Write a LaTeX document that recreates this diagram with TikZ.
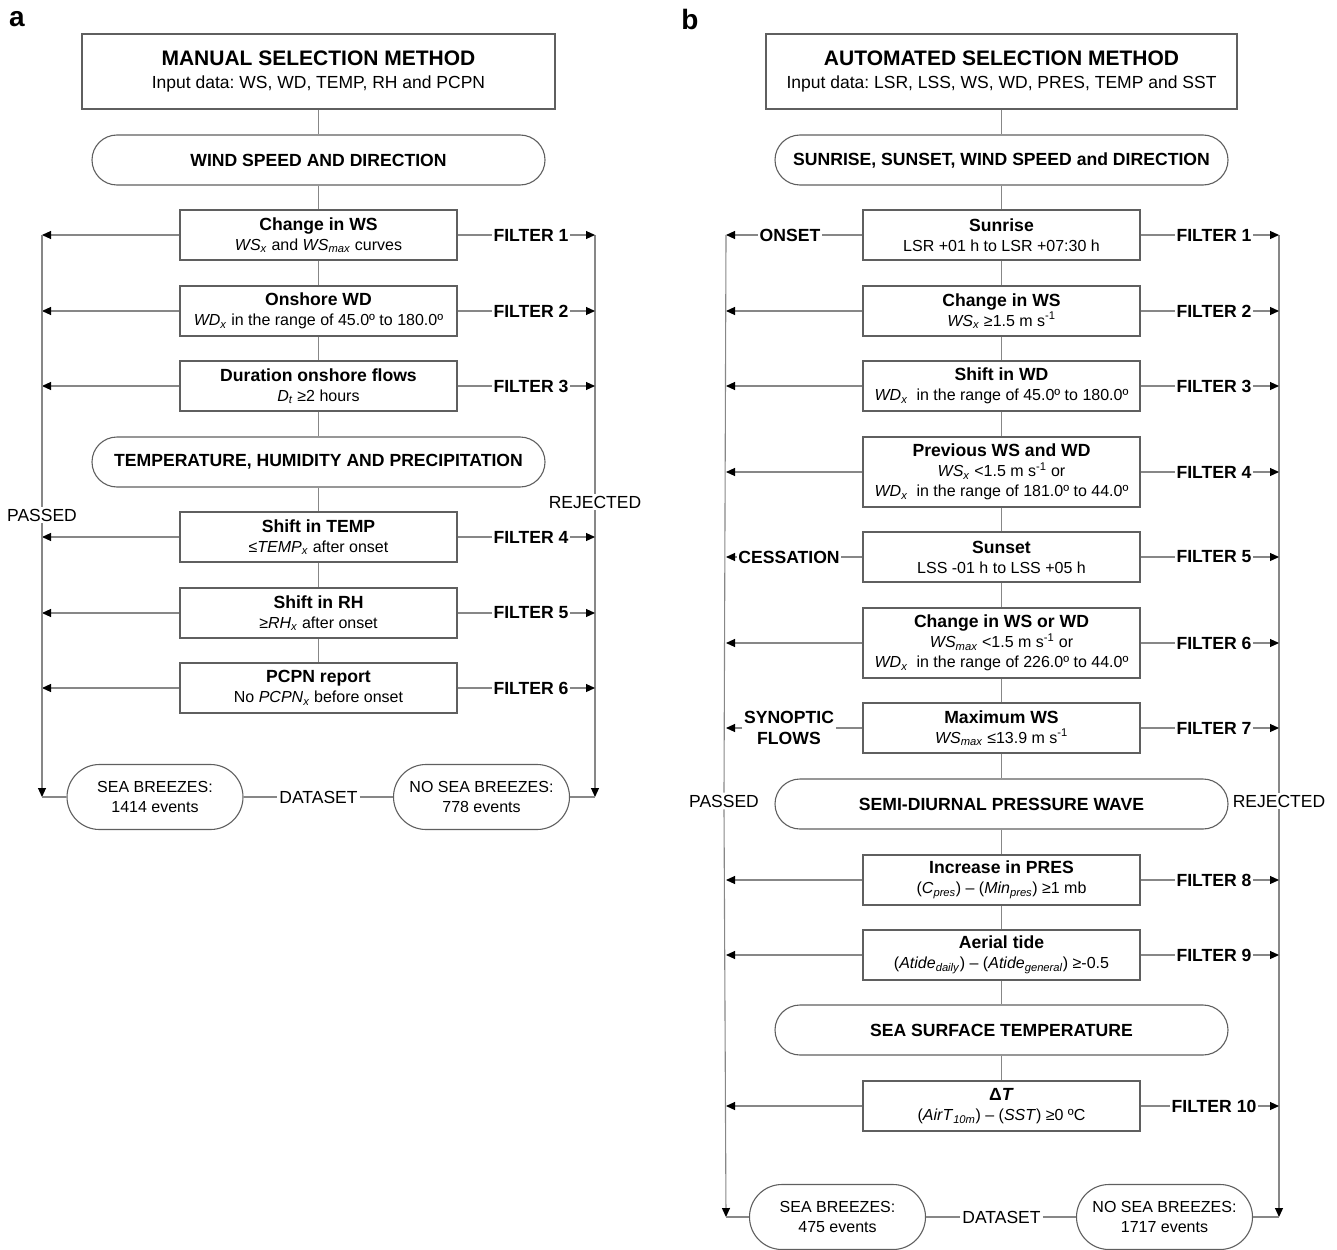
\documentclass[tikz,border=0pt]{standalone}
\usepackage{fontspec}
\setmainfont{Liberation Sans}
\usetikzlibrary{arrows.meta}
\frenchspacing
\definecolor{boxgray}{RGB}{95,95,95}
\definecolor{lngray}{RGB}{135,135,135}
\newcommand\Bft{\fontsize{17.6}{20}\selectfont\bfseries}
\newcommand\Nft{\fontsize{16}{20}\selectfont}
\newcommand\Rft{\fontsize{17.5}{20}\selectfont}
\newcommand\Tft{\fontsize{21}{24}\selectfont\bfseries}
\newcommand\Ift{\fontsize{17.5}{23}\selectfont}
\newcommand\iv[2]{\textit{#1}\textsubscript{\textit{#2}}}
\newcommand\msi{m s\textsuperscript{-1}}
\begin{document}
\begin{tikzpicture}[x=1pt,y=-1pt,
 filtbox/.style={draw=boxgray,line width=1.1pt,minimum width=277pt,minimum height=50pt,inner sep=0pt,align=center,font=\Nft},
 tallbox/.style={minimum height=70pt},
 stad/.style={draw=boxgray,line width=1.1pt,rounded corners=25pt,minimum width=453pt,minimum height=50pt,inner sep=0pt,font=\Bft},
 ttl/.style={draw=boxgray,line width=1.1pt,minimum width=473pt,minimum height=75pt,inner sep=0pt,align=center,font=\Ift},
 endst/.style={draw=boxgray,line width=1.1pt,rounded corners=32.5pt,minimum width=176pt,minimum height=65pt,inner sep=0pt,align=center,font=\Nft},
 conn/.style={draw=lngray,line width=1.1pt},
 arr/.style={conn,-{Triangle[length=9pt,width=8pt,color=black]}},
 flt/.style={font=\Bft,inner sep=1.5pt,align=center},
 sidelbl/.style={font=\Rft,inner sep=2pt},
 plbl/.style={font=\fontsize{28}{30}\selectfont\bfseries,inner sep=0pt}
]
\useasboundingbox (0,0) rectangle (1337,1249);

% ---------------- panel a ----------------
\node[plbl] (la) at (17,19) {a};
\node[ttl] (tA) at (318.5,71.5) {{\Tft MANUAL SELECTION METHOD}\\Input data: WS, WD, TEMP, RH and PCPN};
\node[stad] (sA1) at (318.5,160) {WIND SPEED AND DIRECTION};
\node[filtbox] (a1) at (318.5,235) {{\Bft Change in WS}\\\iv{WS}{x} and \iv{WS}{max} curves};
\node[filtbox] (a2) at (318.5,311) {{\Bft Onshore WD}\\\iv{WD}{x} in the range of 45.0º to 180.0º};
\node[filtbox] (a3) at (318.5,386) {{\Bft Duration onshore flows}\\\iv{D}{t} ≥2 hours};
\node[stad] (sA2) at (318.5,462) {TEMPERATURE, HUMIDITY AND PRECIPITATION};
\node[filtbox] (a4) at (318.5,537) {{\Bft Shift in TEMP}\\≤\iv{TEMP}{x} after onset};
\node[filtbox] (a5) at (318.5,613) {{\Bft Shift in RH}\\≥\iv{RH}{x} after onset};
\node[filtbox] (a6) at (318.5,688) {{\Bft PCPN report}\\No \iv{PCPN}{x} before onset};
\node[endst] (seaA) at (155,797) {SEA BREEZES:\\1414 events};
\node[endst] (noA) at (481.5,797) {NO SEA BREEZES:\\778 events};
\node[sidelbl] (dsA) at (318.5,797) {DATASET};

\draw[conn] (tA) -- (sA1) -- (a1) -- (a2) -- (a3) -- (sA2) -- (a4) -- (a5) -- (a6);
\draw[conn] (seaA) -- (dsA) -- (noA);

\coordinate (pA) at (42,235);
\coordinate (pAb) at (42,797);
\coordinate (rA) at (595,235);
\coordinate (rAb) at (595,797);
\foreach \n in {a1,a2,a3,a4,a5,a6} {\draw[arr] (\n.west) -- (\n.west -| pA);}
\node[sidelbl] (passA) at (42,515) {PASSED};
\draw[conn] (pA) -- (passA.north);
\draw[arr] (passA.south) -- (pAb);
\draw[conn] (pAb) -- (seaA.west);
\node[sidelbl] (rejA) at (595,502) {REJECTED};
\draw[conn] (rA) -- (rejA.north);
\draw[arr] (rejA.south) -- (rAb);
\draw[conn] (noA.east) -- (rAb);
\foreach \n/\k in {a1/1,a2/2,a3/3,a4/4,a5/5,a6/6} {
  \node[flt] (fa\k) at (\n.east -| 531,0) {FILTER \k};
  \draw[conn] (\n.east) -- (fa\k.west);
  \draw[arr] (fa\k.east) -- (fa\k.east -| rA);
}

% ---------------- panel b ----------------
\node[plbl] (lb) at (690,19) {b};
\node[ttl,minimum width=471pt] (tB) at (1001.5,71.5) {{\Tft AUTOMATED SELECTION METHOD}\\Input data: LSR, LSS, WS, WD, PRES, TEMP and SST};
\node[stad] (sB1) at (1001.5,160) {SUNRISE, SUNSET, WIND SPEED and DIRECTION};
\node[filtbox] (b1) at (1001.5,235) {{\Bft Sunrise}\\LSR +01 h to LSR +07:30 h};
\node[filtbox] (b2) at (1001.5,311) {{\Bft Change in WS}\\\iv{WS}{x} ≥1.5 \msi};
\node[filtbox] (b3) at (1001.5,386) {{\Bft Shift in WD}\\\iv{WD}{x}\ \ in the range of 45.0º to 180.0º};
\node[filtbox,tallbox] (b4) at (1001.5,472) {{\Bft Previous WS and WD}\\\iv{WS}{x} <1.5 \msi{} or\\\iv{WD}{x}\ \ in the range of 181.0º to 44.0º};
\node[filtbox] (b5) at (1001.5,557) {{\Bft Sunset}\\LSS -01 h to LSS +05 h};
\node[filtbox,tallbox] (b6) at (1001.5,643) {{\Bft Change in WS or WD}\\\iv{WS}{max} <1.5 \msi{} or\\\iv{WD}{x}\ \ in the range of 226.0º to 44.0º};
\node[filtbox] (b7) at (1001.5,728) {{\Bft Maximum WS}\\\iv{WS}{max} ≤13.9 \msi};
\node[stad] (sB2) at (1001.5,804) {SEMI-DIURNAL PRESSURE WAVE};
\node[filtbox] (b8) at (1001.5,880) {{\Bft Increase in PRES}\\(\iv{C}{pres}) – (\iv{Min}{pres}) ≥1 mb};
\node[filtbox] (b9) at (1001.5,955) {{\Bft Aerial tide}\\(\iv{Atide}{daily}) – (\iv{Atide}{general}) ≥-0.5};
\node[stad] (sB3) at (1001.5,1030) {SEA SURFACE TEMPERATURE};
\node[filtbox] (b10) at (1001.5,1106) {{\Bft Δ\textit{T}}\\(\iv{AirT}{10m}) – (\textit{SST}) ≥0 ºC};
\node[endst] (seaB) at (837.5,1217) {SEA BREEZES:\\475 events};
\node[endst] (noB) at (1164.5,1217) {NO SEA BREEZES:\\1717 events};
\node[sidelbl] (dsB) at (1001.5,1217) {DATASET};

\draw[conn] (tB) -- (sB1) -- (b1) -- (b2) -- (b3) -- (b4) -- (b5) -- (b6) -- (b7) -- (sB2) -- (b8) -- (b9) -- (sB3) -- (b10);
\draw[conn] (seaB) -- (dsB) -- (noB);

\coordinate (pB) at (726,235);
\coordinate (pBb) at (726,1217);
\coordinate (rB) at (1279,235);
\coordinate (rBb) at (1279,1217);

\node[flt] (onset) at (790,235) {ONSET};
\node[flt] (cess) at (789,557) {CESSATION};
\node[flt] (syn) at (789,728) {SYNOPTIC\\[1pt]FLOWS};
\draw[conn] (b1.west) -- (onset.east);
\draw[arr] (onset.west) -- (onset.west -| pB);
\draw[conn] (b5.west) -- (cess.east);
\draw[arr] (cess.west) -- (cess.west -| pB);
\draw[conn] (b7.west) -- (syn.east);
\draw[arr] (syn.west) -- (syn.west -| pB);
\foreach \n in {b2,b3,b4,b6,b8,b9,b10} {\draw[arr] (\n.west) -- (\n.west -| pB);}

\node[sidelbl] (passB) at (724,801) {PASSED};
\draw[conn] (pB) -- (passB.north);
\draw[arr] (passB.south) -- (pBb);
\draw[conn] (pBb) -- (seaB.west);
\node[sidelbl] (rejB) at (1279,801) {REJECTED};
\draw[conn] (rB) -- (rejB.north);
\draw[arr] (rejB.south) -- (rBb);
\draw[conn] (noB.east) -- (rBb);
\foreach \n/\k in {b1/1,b2/2,b3/3,b4/4,b5/5,b6/6,b7/7,b8/8,b9/9,b10/10} {
  \node[flt] (fb\k) at (\n.east -| 1214,0) {FILTER \k};
  \draw[conn] (\n.east) -- (fb\k.west);
  \draw[arr] (fb\k.east) -- (fb\k.east -| rB);
}
\end{tikzpicture}
\end{document}
